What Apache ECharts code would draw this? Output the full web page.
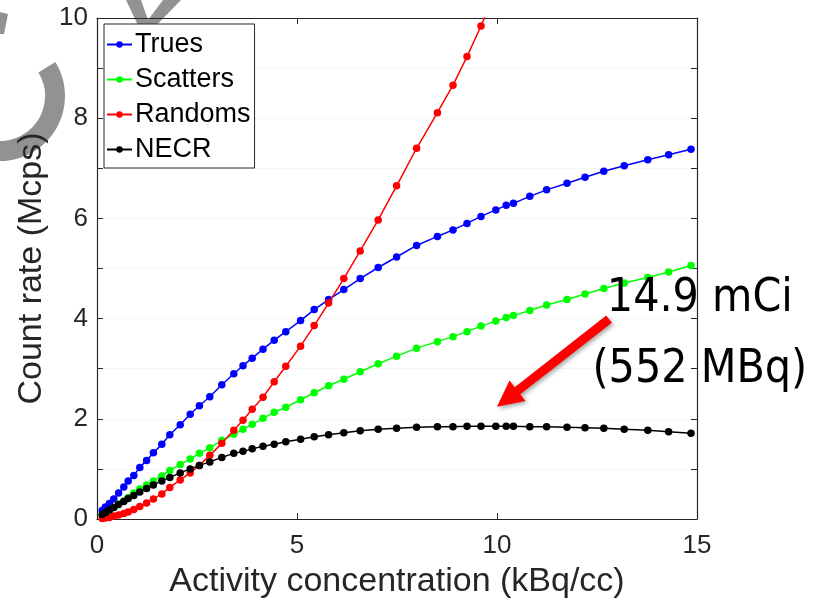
<!DOCTYPE html>
<html>
<head>
<meta charset="utf-8">
<script src="https://cdn.jsdelivr.net/npm/echarts@6/dist/echarts.min.js"></script>
<style>
html,body{margin:0;padding:0;background:#fff;}
#chart{width:817px;height:607px;}
</style>
</head>
<body>
<div id="chart"></div>
<script>
// Activity concentration (kBq/cc), shared by all series
const activity = [0.13,0.21,0.31,0.42,0.54,0.67,0.78,0.92,1.07,1.24,1.41,1.62,1.82,2.08,2.33,2.56,2.82,3.12,3.42,3.65,3.88,4.15,4.43,4.72,5.09,5.43,5.79,6.17,6.58,7.03,7.49,7.99,8.51,8.90,9.25,9.60,9.97,10.23,10.41,10.82,11.24,11.75,12.20,12.67,13.18,13.77,14.29,14.85];
// Count rates (Mcps)
const trues = [0.17,0.24,0.31,0.40,0.52,0.64,0.76,0.87,1.03,1.17,1.32,1.49,1.68,1.88,2.09,2.26,2.44,2.68,2.90,3.06,3.21,3.39,3.57,3.74,3.96,4.18,4.38,4.58,4.80,5.02,5.23,5.46,5.64,5.77,5.90,6.04,6.17,6.26,6.30,6.44,6.57,6.70,6.82,6.94,7.05,7.17,7.27,7.38];
const scatters = [0.08,0.12,0.17,0.23,0.30,0.36,0.43,0.52,0.60,0.68,0.76,0.86,0.97,1.09,1.20,1.31,1.42,1.57,1.69,1.79,1.89,2.01,2.13,2.23,2.38,2.52,2.66,2.79,2.94,3.10,3.25,3.41,3.54,3.64,3.74,3.85,3.95,4.02,4.06,4.16,4.27,4.38,4.49,4.60,4.71,4.82,4.93,5.06];
const randoms = [0.01,0.02,0.03,0.06,0.08,0.11,0.14,0.19,0.25,0.32,0.40,0.50,0.63,0.78,0.92,1.07,1.27,1.51,1.77,1.97,2.19,2.43,2.74,3.05,3.45,3.86,4.31,4.80,5.35,5.97,6.65,7.40,8.11,8.66,9.23,9.84,10.55];
const necr = [0.09,0.13,0.18,0.23,0.29,0.35,0.41,0.47,0.54,0.61,0.68,0.76,0.83,0.92,1.00,1.07,1.14,1.23,1.31,1.35,1.40,1.45,1.49,1.54,1.59,1.64,1.68,1.72,1.76,1.79,1.81,1.83,1.84,1.84,1.85,1.85,1.85,1.85,1.85,1.84,1.84,1.83,1.82,1.81,1.79,1.77,1.74,1.71];
const seriesNames = ['Trues','Scatters','Randoms','NECR'];
const seriesColors = ['#0000ff','#00ff00','#ff0000','#000000'];
const xTicks = [0,5,10,15];
const yTickLabels = [0,2,4,6,8,10];
const annotationLines = ['14.9 mCi','(552 MBq)'];
const arrowTail = [12.8, 3.99];
const arrowTip = [10.0, 2.24];

function pairs(ys){ return ys.map((y,i)=>[activity[i], y]); }
const allData = [trues, scatters, randoms, necr];

const FONT = '"Liberation Sans", Arial, Helvetica, sans-serif';
const AX = '#262626';

const chart = echarts.init(document.getElementById('chart'), null, {renderer:'canvas'});

const axisCommon = {
  axisLine:{show:true, onZero:false, lineStyle:{color:AX, width:1.2}},
  axisTick:{show:true, inside:true, length:6, lineStyle:{color:AX, width:1}},
};

const option = {
  animation:false,
  backgroundColor:'#ffffff',
  grid:{left:97, right:120, top:18, bottom:88, containLabel:false},
  legend:{
    orient:'vertical', left:104, top:24,
    data:seriesNames,
    itemWidth:25, itemHeight:8, itemGap:8,
    padding:[7,4,5,2],
    backgroundColor:'#ffffff', borderColor:AX, borderWidth:1,
    textStyle:{fontFamily:FONT, fontSize:27, color:'#000', lineHeight:27, padding:[0,0,0,-2]},
    selectedMode:false
  },
  xAxis:[
    Object.assign({}, axisCommon, {
      type:'value', min:0, max:15, interval:5, position:'bottom',
      name:'Activity concentration (kBq/cc)', nameLocation:'middle', nameGap:46,
      nameTextStyle:{fontFamily:FONT, fontSize:34, color:AX},
      axisLabel:{show:true, margin:14, fontFamily:FONT, fontSize:26, color:AX,
        formatter:v=> xTicks.indexOf(v)>=0 ? String(v) : ''},
      splitLine:{show:false}
    }),
    Object.assign({}, axisCommon, {
      type:'value', min:0, max:15, interval:5, position:'top',
      axisLabel:{show:false}, splitLine:{show:false}
    })
  ],
  yAxis:[
    Object.assign({}, axisCommon, {
      type:'value', min:0, max:10, interval:1, position:'left',
      name:'Count rate (Mcps)', nameLocation:'middle', nameGap:48,
      nameTextStyle:{fontFamily:FONT, fontSize:34, color:AX},
      axisLabel:{show:true, margin:9, fontFamily:FONT, fontSize:26, color:AX,
        formatter:v=> yTickLabels.indexOf(v)>=0 ? String(v) : ''},
      splitLine:{show:true, lineStyle:{color:'#ebebeb', type:'dotted', width:1}}
    }),
    Object.assign({}, axisCommon, {
      type:'value', min:0, max:10, interval:1, position:'right',
      axisLabel:{show:false}, splitLine:{show:false}
    })
  ],
  series: seriesNames.map((name,i)=>({
    name:name, type:'line', xAxisIndex:0, yAxisIndex:0,
    data:pairs(allData[i]),
    symbol:'circle', symbolSize:7.5, showSymbol:true,
    clip:true,
    lineStyle:{color:seriesColors[i], width:1.5},
    itemStyle:{color:seriesColors[i]},
    z:2+i
  }))
};
chart.setOption(option);

// Annotation: arrow + text, anchored via the axes
const T = chart.convertToPixel({gridIndex:0}, arrowTail);
const P = chart.convertToPixel({gridIndex:0}, arrowTip);
const dx = P[0]-T[0], dy = P[1]-T[1];
const L = Math.sqrt(dx*dx+dy*dy);
const u = [dx/L, dy/L], n = [-u[1], u[0]];
const w = 4.5, h = 26, H = 13;
const B = [P[0]-u[0]*h, P[1]-u[1]*h];
const pt = (base, k) => [base[0]+n[0]*k, base[1]+n[1]*k];
const arrowPts = [pt(T,w), pt(B,w), pt(B,H), P, pt(B,-H), pt(B,-w), pt(T,-w)];

const annCx = chart.convertToPixel({gridIndex:0}, [15.07, 0])[0];
const line1Y = chart.convertToPixel({gridIndex:0}, [0, 4.39])[1];
const line2Y = chart.convertToPixel({gridIndex:0}, [0, 2.97])[1];

chart.setOption({
  graphic:[
    // watermark fragments
    {type:'sector', z:-1, silent:true,
      shape:{cx:0, cy:96, r:65, r0:45, startAngle:-0.55, endAngle:1.85, clockwise:true},
      style:{fill:'#8c8c8c', opacity:0.95}},
    {type:'polygon', z:-1, silent:true,
      shape:{points:[[126,0],[141,0],[148,20],[163,0],[181,0],[144,38]]},
      style:{fill:'#8c8c8c', opacity:0.95}},
    {type:'polygon', z:-1, silent:true,
      shape:{points:[[0,12],[8,14],[4,34],[0,34]]},
      style:{fill:'#8c8c8c', opacity:0.95}},
    // arrow
    {type:'polygon', z:20, silent:true,
      shape:{points:arrowPts},
      style:{fill:'#ff0000', shadowBlur:4, shadowColor:'rgba(0,0,0,0.35)', shadowOffsetX:2, shadowOffsetY:2}},
    // annotation text
    {type:'text', z:21, silent:true,
      style:{text:annotationLines[0], x:annCx, y:line1Y, fontSize:46, fontFamily:'"DejaVu Sans Condensed", "DejaVu Sans", sans-serif',
        fill:'#000', align:'center', verticalAlign:'middle'}},
    {type:'text', z:21, silent:true,
      style:{text:annotationLines[1], x:annCx, y:line2Y, fontSize:46, fontFamily:'"DejaVu Sans Condensed", "DejaVu Sans", sans-serif',
        fill:'#000', align:'center', verticalAlign:'middle'}}
  ]
});
</script>
</body>
</html>
